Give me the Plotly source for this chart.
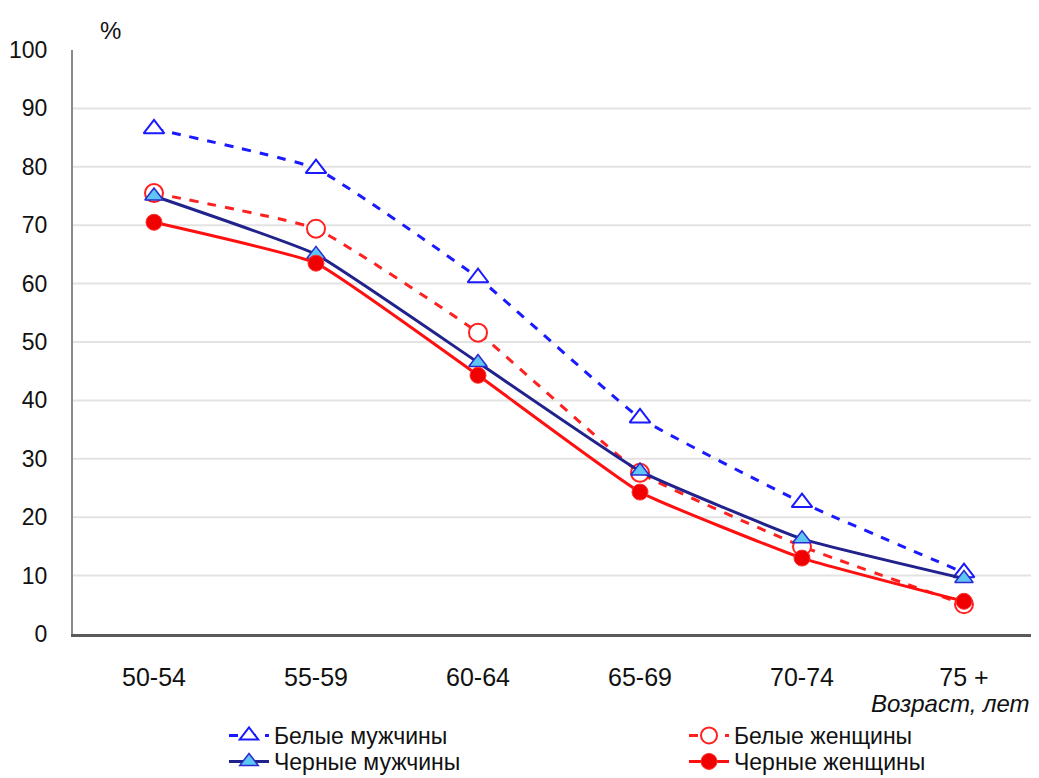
import plotly.graph_objects as go

categories = ["50-54", "55-59", "60-64", "65-69", "70-74", "75 +"]
white_men = [86.5, 79.7, 61.0, 37.0, 22.5, 10.5]
white_women = [75.5, 69.4, 51.6, 27.6, 15.0, 5.1]
black_men = [75.0, 65.0, 46.5, 27.9, 16.3, 9.5]
black_women = [70.5, 63.5, 44.3, 24.3, 13.0, 5.6]
y_ticks = [0, 10, 20, 30, 40, 50, 60, 70, 80, 90, 100]
grid_vals = [10, 20, 30, 40, 50, 60, 70, 80, 90]

FONT = "Liberation Sans, Arial, sans-serif"
TXT = "#111111"
SM = 0.35

# the page body adds an 8px margin, so the figure is 8px smaller than the window
W, H = 1031, 770
L, T, B = 65, 42, 144
PW, PH = W - L, H - T - B

fig = go.Figure()

fig.add_trace(go.Scatter(
    x=categories, y=white_men, name="Белые мужчины", mode="lines+markers",
    legend="legend",
    line=dict(color="#1a1aff", width=3, dash="dash", shape="spline", smoothing=SM),
    marker=dict(symbol="triangle-up", size=18, color="white",
                line=dict(color="#1a1aff", width=2)),
))
fig.add_trace(go.Scatter(
    x=categories, y=white_women, name="Белые женщины", mode="lines+markers",
    legend="legend",
    line=dict(color="#ff2020", width=3, dash="dash", shape="spline", smoothing=SM),
    marker=dict(symbol="circle", size=18, color="white",
                line=dict(color="#ff2020", width=2)),
))
fig.add_trace(go.Scatter(
    x=categories, y=black_men, name="Черные мужчины", mode="lines+markers",
    legend="legend2",
    line=dict(color="#22228c", width=3, shape="spline", smoothing=SM),
    marker=dict(symbol="triangle-up", size=16, color="#5ec6f2",
                line=dict(color="#2a2ad0", width=1.5)),
))
fig.add_trace(go.Scatter(
    x=categories, y=black_women, name="Черные женщины", mode="lines+markers",
    legend="legend2",
    line=dict(color="#ff1010", width=3, shape="spline", smoothing=SM),
    marker=dict(symbol="circle", size=16, color="#f00000",
                line=dict(color="#ff3030", width=1)),
))

for g in grid_vals:
    fig.add_shape(type="line", xref="paper", yref="y", x0=0, x1=1, y0=g, y1=g,
                  line=dict(color="#e3e3e3", width=2), layer="below")

leg_common = dict(
    orientation="h", xanchor="left", yanchor="top",
    xref="container", yref="container",
    entrywidth=405, entrywidthmode="pixels",
    font=dict(size=23, family=FONT, color=TXT),
    tracegroupgap=0, itemwidth=40, bgcolor="rgba(0,0,0,0)",
)

fig.update_layout(
    width=W, height=H,
    margin=dict(l=L, r=0, t=T, b=B, autoexpand=False),
    paper_bgcolor="white", plot_bgcolor="white",
    font=dict(family=FONT, color=TXT, size=25),
    showlegend=True,
    legend=dict(x=216 / W, y=1 - 706 / H, **leg_common),
    legend2=dict(x=216 / W, y=1 - 732 / H, **leg_common),
    xaxis=dict(
        type="category", range=[-0.5, 5.463],
        showline=True, linecolor="#5a5a5a", linewidth=3,
        showgrid=False, ticks="", ticklabelstandoff=19,
        tickfont=dict(size=25, family=FONT, color=TXT),
        fixedrange=True,
    ),
    yaxis=dict(
        range=[0, 100], tickvals=y_ticks,
        showline=True, linecolor="#8a8a8a", linewidth=2,
        showgrid=False, zeroline=False, ticks="", ticklabelstandoff=19,
        tickfont=dict(size=23, family=FONT, color=TXT),
    ),
    annotations=[
        dict(text="%", xref="paper", yref="paper", x=(102 - L) / PW, y=(PH + 20) / PH,
             xanchor="center", yanchor="middle", showarrow=False,
             font=dict(size=24, family=FONT, color=TXT)),
        dict(text="<i>Возраст, лет</i>", xref="paper", yref="paper", x=(1024 - L) / PW,
             y=-(695 - (T + PH)) / PH, xanchor="right", yanchor="middle", showarrow=False,
             font=dict(size=24, family=FONT, color=TXT)),
    ],
)

fig.write_html("out.html")
